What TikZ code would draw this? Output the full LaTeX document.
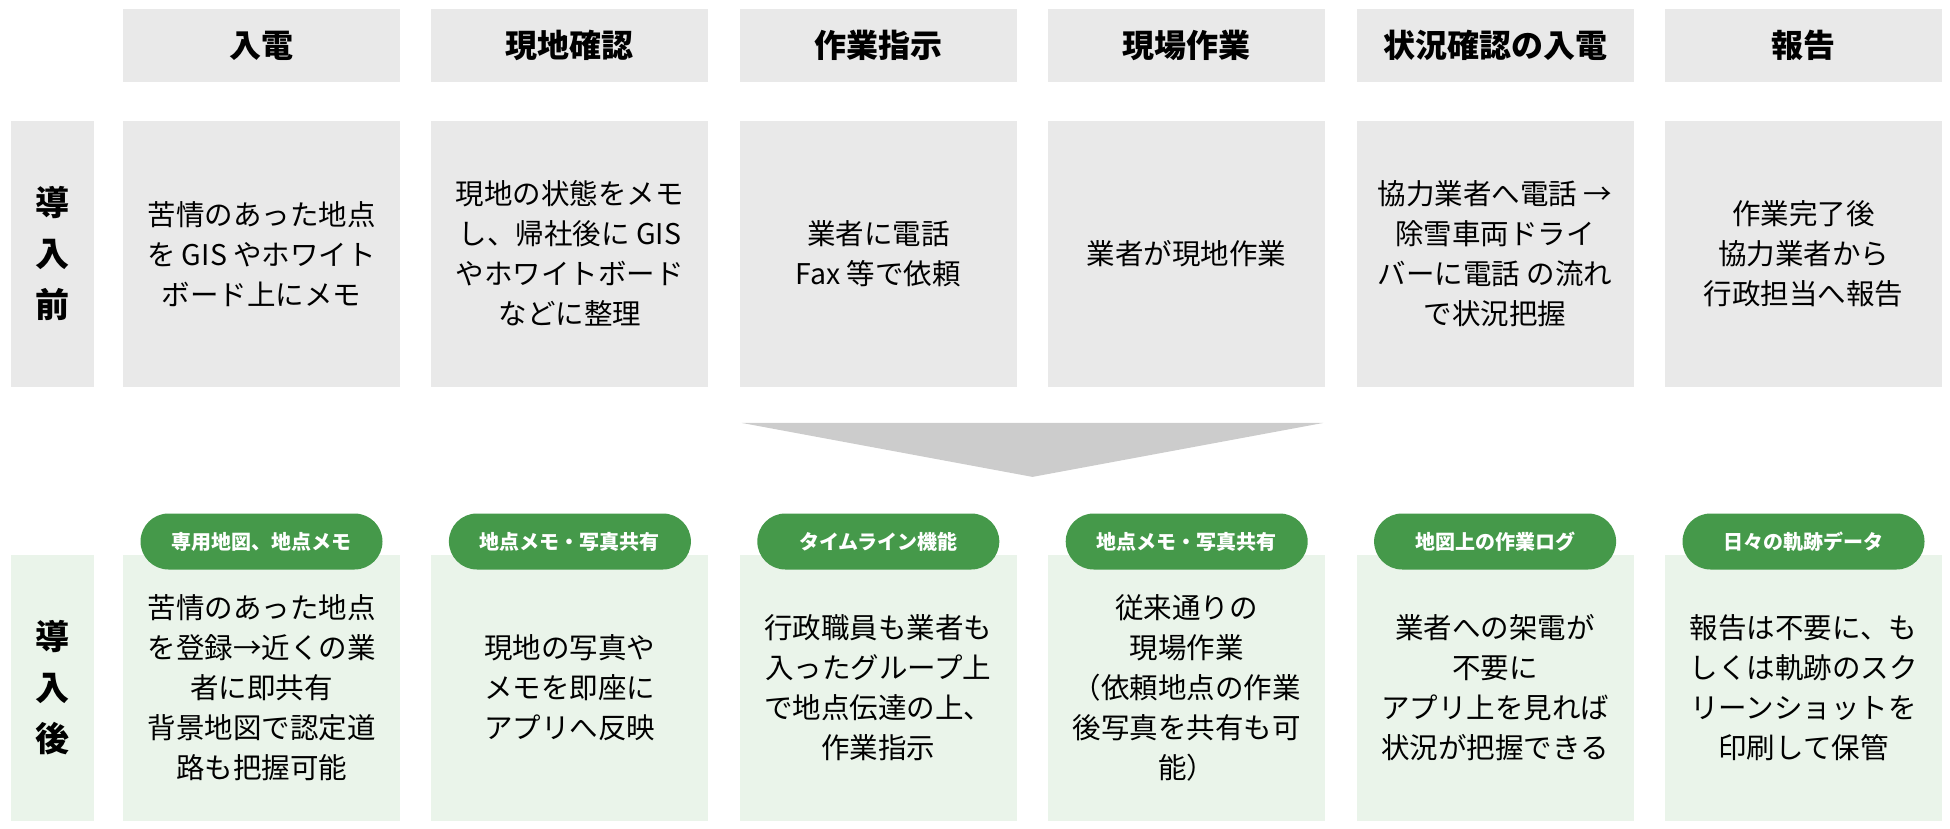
\documentclass[tikz,border=0pt]{standalone}
\usepackage{fontspec}
\newfontfamily\jp{Noto Sans CJK JP}
\usepackage{tikz}
\usetikzlibrary{calc}
\definecolor{boxgray}{HTML}{E9E9E9}
\definecolor{boxgreen}{HTML}{EAF4EA}
\definecolor{pillgreen}{HTML}{45994A}
\definecolor{arrowgray}{HTML}{CCCCCC}

\begin{document}
\begin{tikzpicture}[x=1pt, y=-1pt,
    hdbox/.style={fill=boxgray, minimum width=277pt, minimum height=73pt, inner sep=0pt, font=\jp\bfseries\fontsize{32}{38}\selectfont},
    prebox/.style={fill=boxgray, minimum width=277pt, minimum height=266pt, inner sep=0pt, align=center, font=\jp\fontsize{28.5}{40}\selectfont},
    postbox/.style={prebox, fill=boxgreen},
    sidebox/.style={fill=boxgray, minimum width=83pt, minimum height=266pt, inner sep=0pt, align=center, font=\jp\bfseries\fontsize{34}{51}\selectfont},
    tagpill/.style={fill=pillgreen, text=white, rounded corners=28pt, minimum width=242pt, minimum height=56pt, inner sep=0pt, font=\jp\bfseries\fontsize{20}{24}\selectfont}]
    \useasboundingbox (0,0) rectangle (1950,829);

    % column heads
    \node[hdbox] (h1) at (261.5,45.5) {入電};
    \node[hdbox] (h2) at (569.9,45.5) {現地確認};
    \node[hdbox] (h3) at (878.3,45.5) {作業指示};
    \node[hdbox] (h4) at (1186.7,45.5) {現場作業};
    \node[hdbox] (h5) at (1495.1,45.5) {状況確認の入電};
    \node[hdbox] (h6) at (1803.5,45.5) {報告};

    % before
    \node[sidebox] (pre) at (52.75,253.7) {導\\入\\前};
    \node[prebox] (b1) at (261.5,253.7) {苦情のあった地点\\を GIS やホワイト\\ボード上にメモ};
    \node[prebox] (b2) at (569.9,253.7) {現地の状態をメモ\\し、帰社後に GIS\\やホワイトボード\\などに整理};
    \node[prebox] (b3) at (878.3,253.7) {業者に電話\\Fax 等で依頼};
    \node[prebox] (b4) at (1186.7,253.7) {業者が現地作業};
    \node[prebox] (b5) at (1495.1,253.7) {協力業者へ電話 →\\除雪車両ドライ\\バーに電話 の流れ\\で状況把握};
    \node[prebox] (b6) at (1803.5,253.7) {作業完了後\\協力業者から\\行政担当へ報告};

    \fill[arrowgray] ($(b3.south west)+(2,36)$) -- ($(b4.south east)+(-2,36)$)
        -- ($(b3.south east)!0.5!(b4.south west)+(0,90)$) -- cycle;

    % after
    \node[sidebox, fill=boxgreen] (post) at (52.75,687.7) {導\\入\\後};
    \node[postbox] (a1) at (261.5,687.7) {苦情のあった地点\\を登録→近くの業\\者に即共有\\背景地図で認定道\\路も把握可能};
    \node[postbox] (a2) at (569.9,687.7) {現地の写真や\\メモを即座に\\アプリへ反映};
    \node[postbox] (a3) at (878.3,687.7) {行政職員も業者も\\入ったグループ上\\で地点伝達の上、\\作業指示};
    \node[postbox] (a4) at (1186.7,687.7) {従来通りの\\現場作業\\（依頼地点の作業\\後写真を共有も可\\能）};
    \node[postbox] (a5) at (1495.1,687.7) {業者への架電が\\不要に\\アプリ上を見れば\\状況が把握できる};
    \node[postbox] (a6) at (1803.5,687.7) {報告は不要に、も\\しくは軌跡のスク\\リーンショットを\\印刷して保管};

    \node[tagpill] (t1) at (261.5,541.5) {専用地図、地点メモ};
    \node[tagpill] (t2) at (569.9,541.5) {地点メモ・写真共有};
    \node[tagpill] (t3) at (878.3,541.5) {タイムライン機能};
    \node[tagpill] (t4) at (1186.7,541.5) {地点メモ・写真共有};
    \node[tagpill] (t5) at (1495.1,541.5) {地図上の作業ログ};
    \node[tagpill] (t6) at (1803.5,541.5) {日々の軌跡データ};
\end{tikzpicture}
\end{document}
